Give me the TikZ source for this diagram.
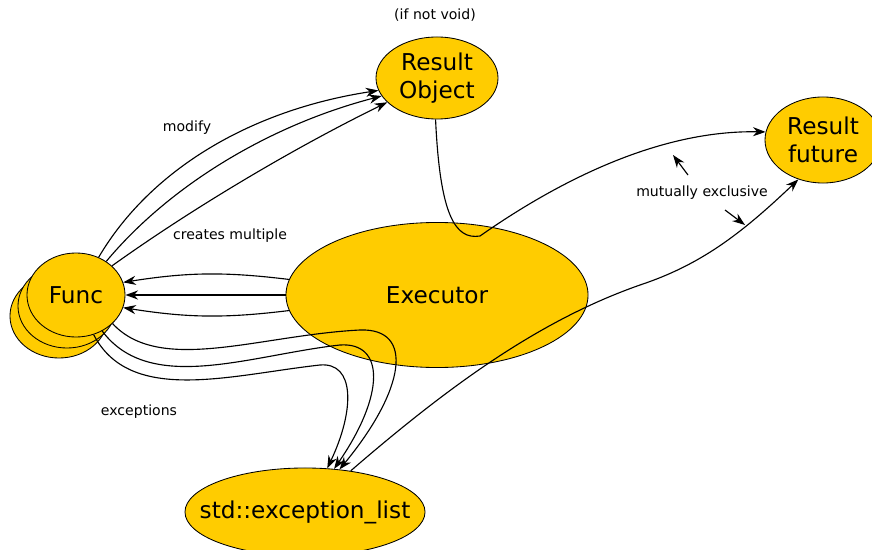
\documentclass[tikz,border=0pt]{standalone}
\usepackage{fontspec}
\setmainfont{DejaVu Sans}
\usetikzlibrary{shapes.geometric,arrows.meta}
\definecolor{nodeyellow}{RGB}{255,204,0}

\begin{document}
\begin{tikzpicture}[x=0.025cm,y=-0.025cm,>={Stealth[length=9pt,width=6.5pt]},
        bubble/.style={ellipse,draw,line width=0.6pt,fill=nodeyellow,inner sep=0pt,align=center,font=\fontsize{16.5}{20}\selectfont},
        lbl/.style={font=\fontsize{10}{12}\selectfont},
        link/.style={line width=0.8pt,->}]
        \clip (0,0) rectangle (872,550);

        % the blobs
        \node[bubble,minimum width=3.05cm,minimum height=2.05cm] (resobj) at (437,78) {Result\\Object};
        \node[bubble,minimum width=2.9cm,minimum height=2.15cm] (resfut) at (823,140) {Result\\future};
        \node[bubble,minimum width=7.55cm,minimum height=3.625cm] (executor) at (437,295) {Executor};
        \node[bubble,inner xsep=-1cm,minimum width=6cm,minimum height=2.2cm] (exclist) at (305,512) {std::exception\_list};
        \node[bubble,minimum width=2.45cm,minimum height=2.1cm] (func3) at (59,316) {};
        \node[bubble,minimum width=2.45cm,minimum height=2.1cm] (func2) at (67,306) {};
        \node[bubble,minimum width=2.45cm,minimum height=2.1cm] (func) at (76,295) {Func};

        % labels
        \node[lbl] (ifnotvoid) at (435,15) {(if not void)};
        \node[lbl] (modify) at (187,128) {modify};
        \node[lbl] (creates) at (230,236) {creates multiple};
        \node[lbl] (exceptions) at (139,412) {exceptions};
        \node[lbl] (mutex) at (702,193) {mutually exclusive};

        % func modifies the result
        \draw[link] (func.59) .. controls (150,170) and (250,110) .. (resobj.192);
        \draw[link] (func.48) .. controls (170,185) and (270,125) .. (resobj.198);
        \draw[link] (func.39) .. controls (190,210) and (290,150) .. (resobj.206);

        % executor creates funcs
        \draw[link] (executor.174) to[bend right=8] (func.15);
        \draw[link] (executor.180) -- (func.0);
        \draw[link] (executor.186) to[bend left=8] (func.-15);

        % exceptions
        \draw[link] (func.-38) .. controls (160,375) and (260,335) .. (360,330)
                .. controls (415,328) and (405,390) .. (exclist.51);
        \draw[link] (func.-54) .. controls (150,395) and (250,355) .. (340,345)
                .. controls (385,342) and (385,395) .. (exclist.56);
        \draw[link] (func.-66) .. controls (130,405) and (230,375) .. (320,365)
                .. controls (355,362) and (355,410) .. (exclist.63);

        % to the future
        \draw[link] (resobj.-92) .. controls (440,215) and (455,240) .. (480,236)
                .. controls (560,180) and (660,130) .. (resfut.172);
        \draw[link] (exclist.42) .. controls (450,385) and (540,320) .. (640,285)
                .. controls (700,265) and (740,235) .. (resfut.238);

        \coordinate (mxa) at (688,175);
        \coordinate (mxb) at (673,155);
        \coordinate (mxc) at (725,210);
        \coordinate (mxd) at (745,225);
        \draw[link] (mxa) -- (mxb);
        \draw[link] (mxc) -- (mxd);
\end{tikzpicture}
\end{document}
